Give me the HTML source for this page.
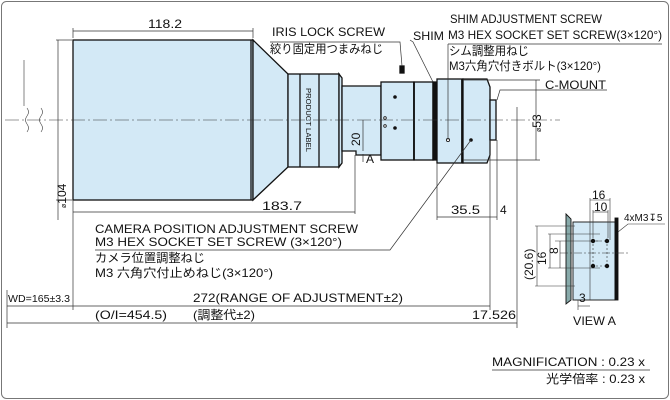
<!DOCTYPE html>
<html><head><meta charset="utf-8"><style>
body{margin:0;background:#fff}
svg{display:block}
text{font-family:"Liberation Sans","Noto Sans CJK JP",sans-serif;fill:#111}
</style></head><body>
<svg width="670" height="400" viewBox="0 0 670 400" xmlns="http://www.w3.org/2000/svg">
<rect x="1.5" y="1.5" width="667" height="397" rx="5" fill="#fff" stroke="#777" stroke-width="1"/>
<g stroke="#111" stroke-width="1.3" fill="#d3e9f6">
<rect x="73" y="40" width="180" height="160"/>
<line x1="251" y1="40" x2="251" y2="200"/>
<polygon points="253,40 288,74 288,167 253,200"/>
<rect x="288" y="74" width="51" height="93"/>
<line x1="300" y1="74" x2="300" y2="167"/><line x1="319" y1="74" x2="319" y2="167"/>
<polygon points="339,74 342,78 342,163 339,167"/>
<polygon points="342,86 381,86 381,155 356,155 356,151 342,151"/>
<rect x="381" y="82" width="33" height="78"/>
<rect x="414" y="82" width="19" height="78"/>
<rect x="433" y="82" width="3" height="78" fill="#111"/>
<rect x="437" y="79" width="26" height="84"/>
<polygon points="463,79 487,79 490,87 490,155 487,163 463,163"/>
<rect x="490" y="100" width="6" height="40"/>
<rect x="400" y="66" width="4" height="7" fill="#111"/>
</g>
<g stroke="#111" stroke-width="1.8"><line x1="414" y1="82" x2="414" y2="160"/><line x1="462" y1="79" x2="462" y2="163"/></g>
<g fill="#111"><circle cx="395" cy="97" r="1.8"/><circle cx="395" cy="128" r="1.8"/><circle cx="471" cy="140" r="1.8"/></g>
<g fill="#fff" stroke="#111" stroke-width="0.8"><circle cx="385" cy="118" r="1.3"/><circle cx="385" cy="126" r="1.3"/><circle cx="448" cy="140" r="1.6"/></g>
<text transform="translate(306,88) rotate(90)" font-size="7.5" textLength="64" lengthAdjust="spacingAndGlyphs">PRODUCT LABEL</text>
<line x1="5" y1="120" x2="560" y2="120" stroke="#333" stroke-width="0.6" stroke-dasharray="14,3,2,3"/>
<path d="M27 108 q3 4 0 8 q-3 4 0 8 q3 4 0 8 M41 108 q3 4 0 8 q-3 4 0 8 q3 4 0 8" fill="none" stroke="#333" stroke-width="0.6"/>
<line x1="24" y1="60" x2="24" y2="106" stroke="#333" stroke-width="0.6"/>
<g stroke="#333" stroke-width="0.7" fill="none">
<line x1="73" y1="28" x2="73" y2="38"/><line x1="253" y1="28" x2="253" y2="38"/><line x1="73" y1="31" x2="253" y2="31"/>
<line x1="56" y1="40" x2="72" y2="40"/><line x1="56" y1="200" x2="72" y2="200"/><line x1="58" y1="40" x2="58" y2="220"/>
<line x1="73" y1="212" x2="355" y2="212"/><line x1="355" y1="155" x2="355" y2="214"/>
<line x1="73" y1="200" x2="73" y2="310"/>
<line x1="363" y1="120" x2="363" y2="151"/><line x1="363" y1="154" x2="363" y2="162"/>
<line x1="463" y1="80" x2="540" y2="80"/><line x1="463" y1="160" x2="540" y2="160"/><line x1="536" y1="80" x2="536" y2="160"/>
<line x1="517" y1="107" x2="517" y2="328"/>
<line x1="490" y1="140" x2="490" y2="310"/><line x1="497" y1="140" x2="497" y2="220"/>
<line x1="437" y1="163" x2="437" y2="220"/>
<line x1="437" y1="217" x2="490" y2="217"/><line x1="490" y1="217" x2="497" y2="217"/>
<line x1="7" y1="290" x2="7" y2="328"/>
<line x1="7" y1="306" x2="490" y2="306"/>
<line x1="7" y1="323" x2="517" y2="323"/>
<polyline points="270,42 400,42 402,66"/>
<polyline points="410,40 413,42 433,82"/>
<polyline points="448,44 662,44"/><line x1="448" y1="44" x2="448" y2="140"/>
<polyline points="607,90 500,90 497,100"/>
<polyline points="95,250 390,250 471,140"/>
<line x1="492" y1="370" x2="650" y2="370"/>
</g>
<g font-size="12">
<text x="148" y="28" textLength="34" lengthAdjust="spacingAndGlyphs">118.2</text>
<text x="262" y="210" textLength="40" lengthAdjust="spacingAndGlyphs">183.7</text>
<text transform="translate(66,208) rotate(-90)"><tspan font-size="7">ø</tspan>104</text>
<text transform="translate(360,146) rotate(-90)">20</text>
<text x="366" y="163">A</text>
<text transform="translate(541,132) rotate(-90)"><tspan font-size="7">ø</tspan>53</text>
<text x="451" y="214" textLength="29" lengthAdjust="spacingAndGlyphs">35.5</text>
<text x="500" y="214">4</text>
<text x="272" y="36" textLength="113" lengthAdjust="spacingAndGlyphs">IRIS LOCK SCREW</text>
<text x="270" y="53" textLength="113" lengthAdjust="spacingAndGlyphs">絞り固定用つまみねじ</text>
<text x="413" y="40" textLength="31" lengthAdjust="spacingAndGlyphs">SHIM</text>
<text x="450" y="23" textLength="152" lengthAdjust="spacingAndGlyphs">SHIM ADJUSTMENT SCREW</text>
<text x="448" y="39" textLength="214" lengthAdjust="spacingAndGlyphs">M3 HEX SOCKET SET SCREW(3×120°)</text>
<text x="449" y="55" textLength="80" lengthAdjust="spacingAndGlyphs">シム調整用ねじ</text>
<text x="449" y="70" textLength="152" lengthAdjust="spacingAndGlyphs">M3六角穴付きボルト(3×120°)</text>
<text x="545" y="89" textLength="61" lengthAdjust="spacingAndGlyphs">C-MOUNT</text>
<text x="95" y="233" textLength="263" lengthAdjust="spacingAndGlyphs">CAMERA POSITION ADJUSTMENT SCREW</text>
<text x="95" y="246" textLength="247" lengthAdjust="spacingAndGlyphs">M3 HEX SOCKET SET SCREW (3×120°)</text>
<text x="95" y="262" textLength="110" lengthAdjust="spacingAndGlyphs">カメラ位置調整ねじ</text>
<text x="95" y="277" textLength="178" lengthAdjust="spacingAndGlyphs">M3 六角穴付止めねじ(3×120°)</text>
<text x="8" y="302" textLength="62" lengthAdjust="spacingAndGlyphs" font-size="10">WD=165±3.3</text>
<text x="193" y="302" textLength="210" lengthAdjust="spacingAndGlyphs">272(RANGE OF ADJUSTMENT±2)</text>
<text x="95" y="319" textLength="72" lengthAdjust="spacingAndGlyphs">(O/I=454.5)</text>
<text x="193" y="319" textLength="62" lengthAdjust="spacingAndGlyphs">(調整代±2)</text>
<text x="472" y="319" textLength="44" lengthAdjust="spacingAndGlyphs">17.526</text>
<text x="492" y="366" textLength="153" lengthAdjust="spacingAndGlyphs">MAGNIFICATION : 0.23 x</text>
<text x="546" y="383" textLength="99" lengthAdjust="spacingAndGlyphs">光学倍率 : 0.23 x</text>
<text x="573" y="325" textLength="43" lengthAdjust="spacingAndGlyphs">VIEW A</text>
</g>
<g stroke="#111" stroke-width="0.9">
<polygon points="566,214 571,219 571,300 566,304" fill="#8aa"/>
<rect x="573" y="222" width="42" height="78" fill="#d3e9f6"/>
<rect x="615" y="218" width="3" height="82" fill="#111"/>
</g>
<g stroke="#333" stroke-width="0.6" fill="none">
<line x1="590" y1="198" x2="590" y2="300"/><line x1="610" y1="198" x2="610" y2="240"/><line x1="593" y1="210" x2="593" y2="238"/><line x1="608" y1="210" x2="608" y2="238"/>
<line x1="590" y1="200" x2="610" y2="200"/><line x1="593" y1="212" x2="608" y2="212"/>
<line x1="548" y1="234" x2="600" y2="234"/><line x1="555" y1="241" x2="600" y2="241"/><line x1="548" y1="268" x2="600" y2="268"/><line x1="560" y1="253" x2="628" y2="253" stroke-dasharray="8,2,2,2"/>
<line x1="550" y1="234" x2="550" y2="268"/><line x1="560" y1="241" x2="560" y2="268"/>
<line x1="535" y1="226" x2="575" y2="226"/><line x1="535" y1="286" x2="575" y2="286"/><line x1="537" y1="226" x2="537" y2="286"/>
<line x1="596" y1="241" x2="606" y2="241" stroke-dasharray="2,2"/><line x1="596" y1="266" x2="606" y2="266" stroke-dasharray="2,2"/>
<line x1="593" y1="244" x2="593" y2="263" stroke-dasharray="2,2"/><line x1="607" y1="244" x2="607" y2="263" stroke-dasharray="2,2"/>
<line x1="578" y1="300" x2="578" y2="310"/><line x1="578" y1="306" x2="590" y2="306"/>
<polyline points="618,232 628,224 665,224"/>
</g>
<g fill="#111"><circle cx="593" cy="241" r="2.2"/><circle cx="607" cy="241" r="2.2"/><circle cx="593" cy="266" r="2.2"/><circle cx="607" cy="266" r="2.2"/></g>
<g font-size="12">
<text x="592" y="199">16</text><text x="594" y="211">10</text>
<text x="624" y="221" font-size="10">4xM3↧5</text>
<text x="579" y="302">3</text>
<text transform="translate(533,280) rotate(-90)">(20.6)</text>
<text transform="translate(546,265) rotate(-90)">16</text>
<text transform="translate(558,254) rotate(-90)">8</text>
</g>
</svg>
</body></html>
